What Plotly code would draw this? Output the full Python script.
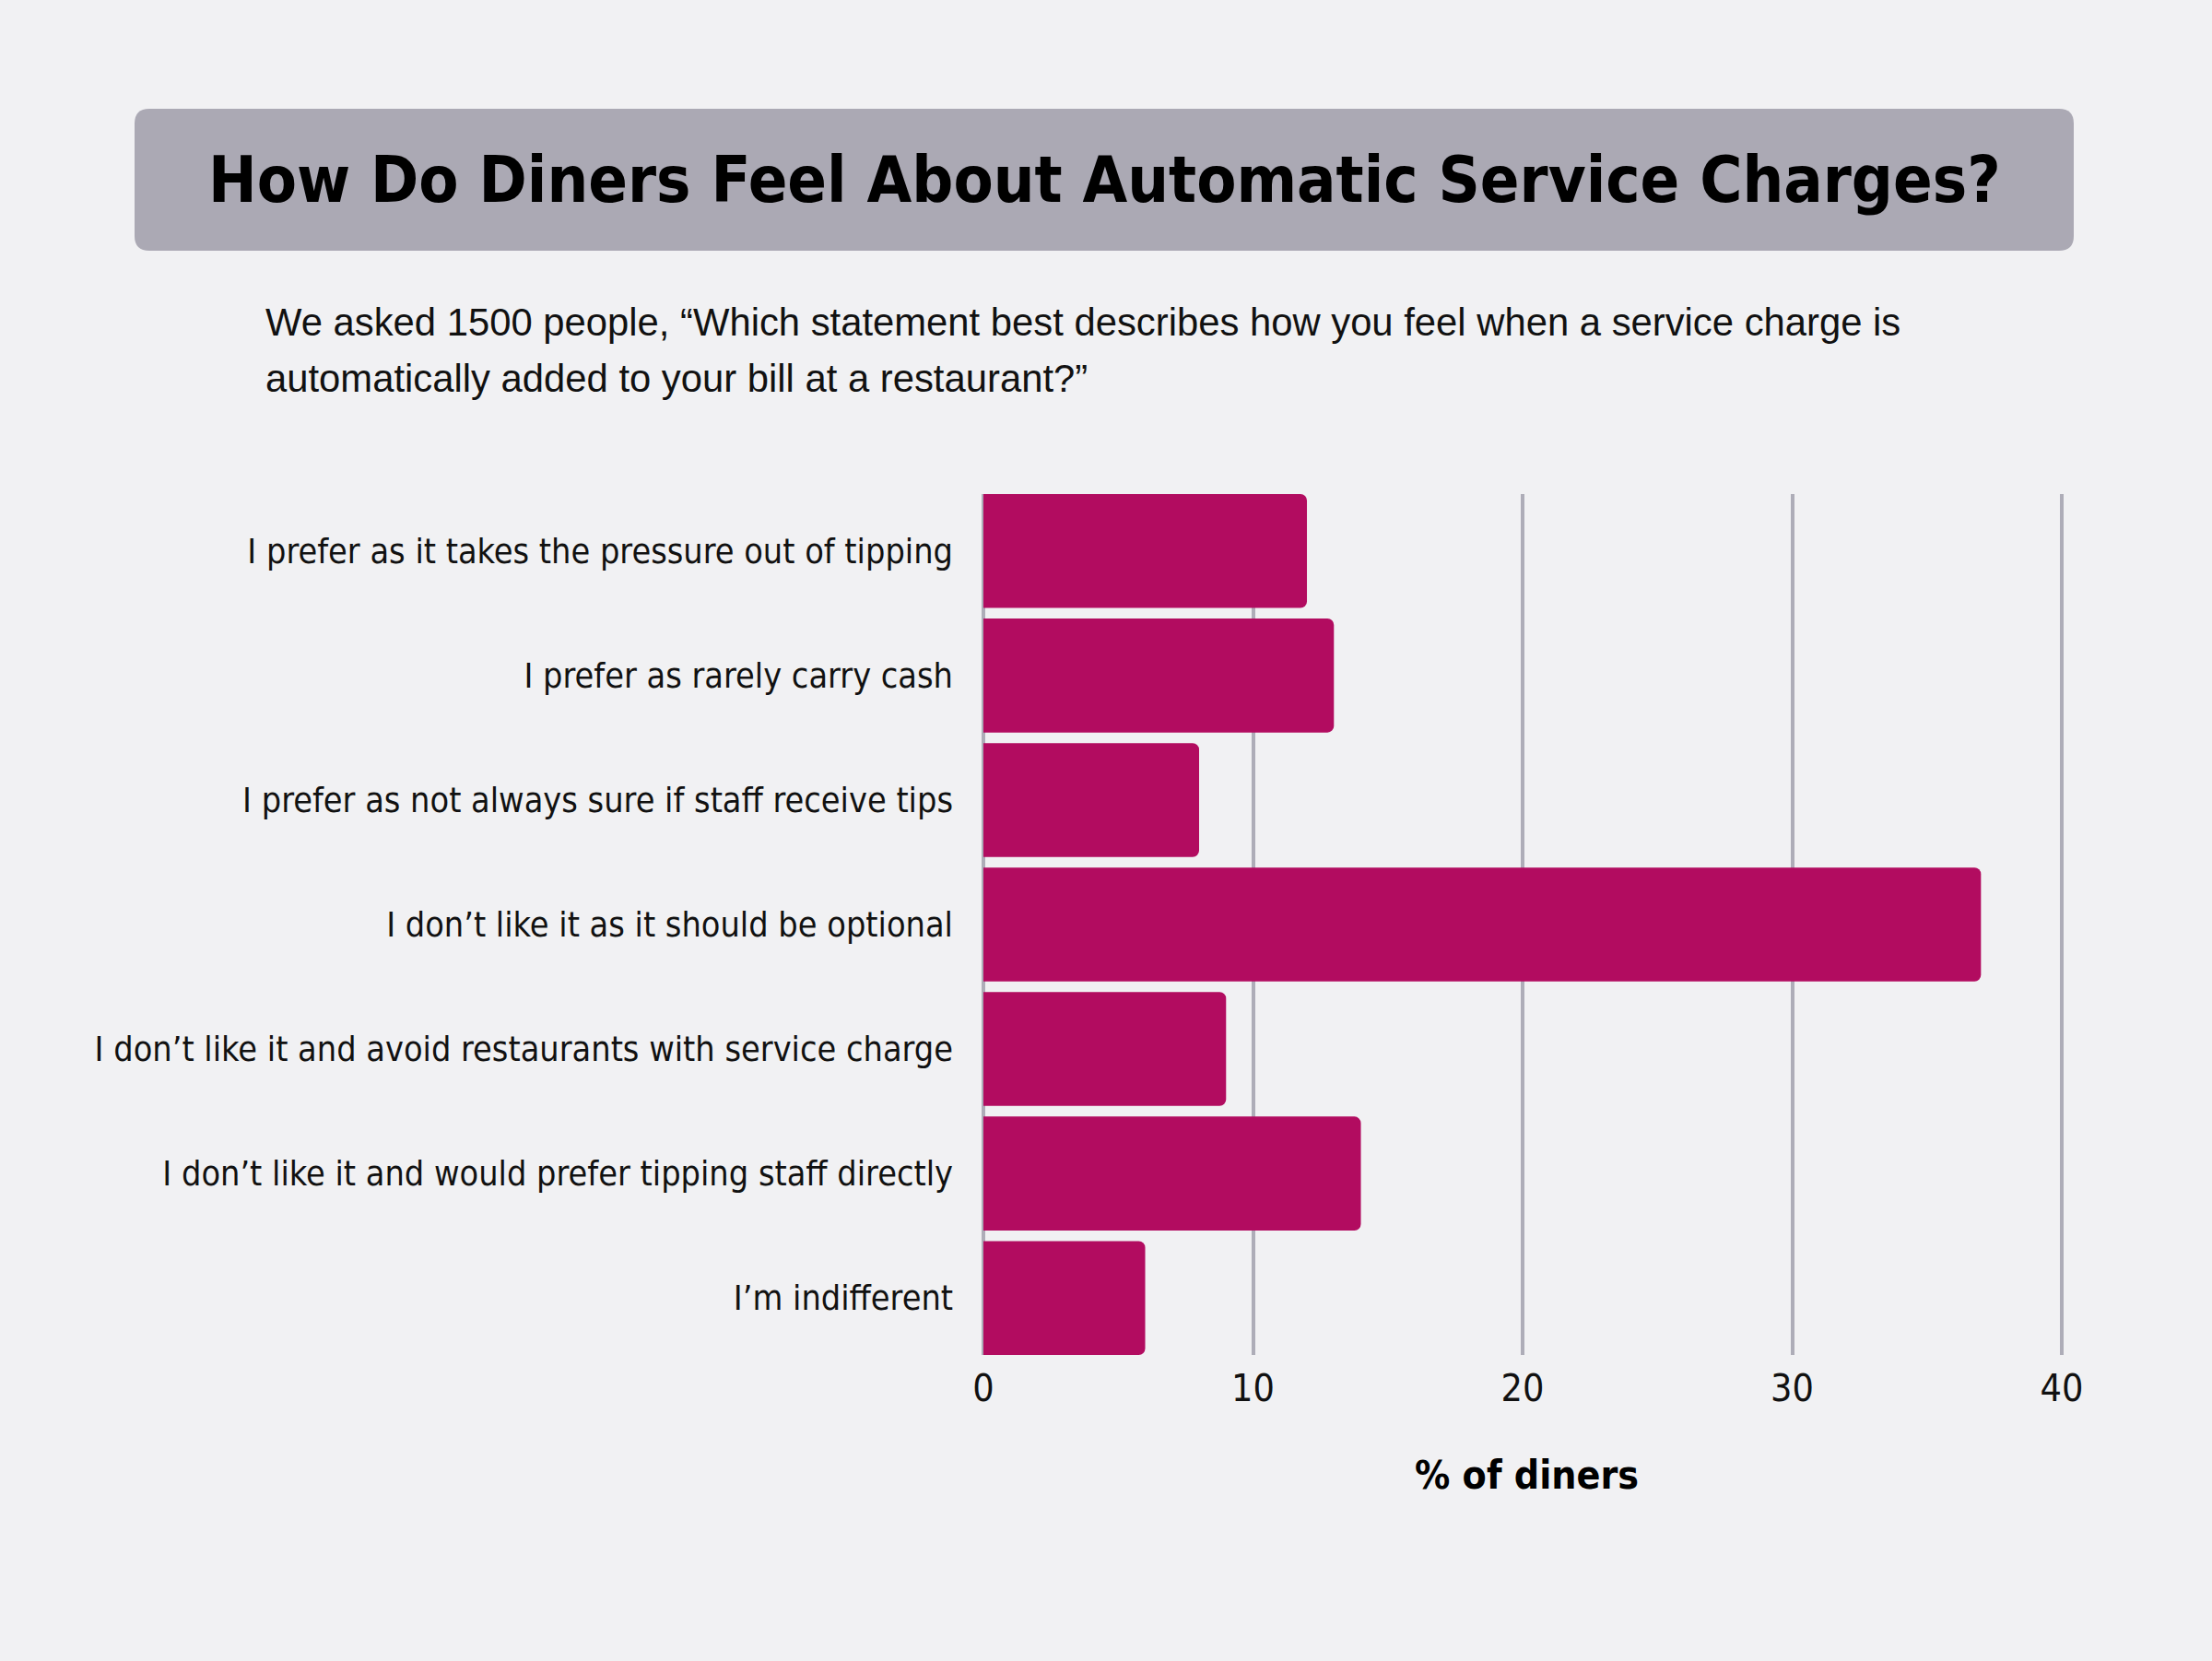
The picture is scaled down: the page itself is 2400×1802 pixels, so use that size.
import plotly.graph_objects as go

categories = [
    "I prefer as it takes the pressure out of tipping",
    "I prefer as rarely carry cash",
    "I prefer as not always sure if staff receive tips",
    "I don’t like it as it should be optional",
    "I don’t like it and avoid restaurants with service charge",
    "I don’t like it and would prefer tipping staff directly",
    "I’m indifferent",
]
values = [12, 13, 8, 37, 9, 14, 6]
x_ticks = [0, 10, 20, 30, 40]

title_text = "How Do Diners Feel About Automatic Service Charges?"
subtitle_lines = [
    "We asked 1500 people, “Which statement best describes how you feel when a service charge is",
    "automatically added to your bill at a restaurant?”",
]
x_title = "% of diners"

W, H = 2400, 1802
L, R, T, B = 1067, 160, 536, 332
BG = "#f1f1f3"
BAR = "#b20c60"
GRID = "#aeadb8"
BOX = "#aba9b4"
NARROW = "Liberation Sans Narrow, DejaVu Sans Condensed, Roboto, sans-serif"
REG = "Liberation Sans, Arial, sans-serif"
GAP = 0.085
X_MAX = 40.1


def px2x(px):
    return (px - L) / (W - L - R)


def py2y(py):
    return (H - B - py) / (H - T - B)


def rounded_rect(x0, y0, x1, y1, r):
    X = px2x
    Y = py2y
    return (
        f"M {X(x0 + r)},{Y(y0)} L {X(x1 - r)},{Y(y0)} Q {X(x1)},{Y(y0)} {X(x1)},{Y(y0 + r)} "
        f"L {X(x1)},{Y(y1 - r)} Q {X(x1)},{Y(y1)} {X(x1 - r)},{Y(y1)} "
        f"L {X(x0 + r)},{Y(y1)} Q {X(x0)},{Y(y1)} {X(x0)},{Y(y1 - r)} "
        f"L {X(x0)},{Y(y0 + r)} Q {X(x0)},{Y(y0)} {X(x0 + r)},{Y(y0)} Z"
    )


fig = go.Figure(
    go.Bar(
        x=values,
        y=categories,
        orientation="h",
        marker=dict(color=BAR, line=dict(width=0)),
        hoverinfo="skip",
    )
)

n = len(categories)
fig.update_layout(
    width=W,
    height=H,
    margin=dict(l=L, r=R, t=T, b=B, pad=0),
    paper_bgcolor=BG,
    plot_bgcolor=BG,
    bargap=GAP,
    barcornerradius=7,
    showlegend=False,
    xaxis=dict(
        range=[0, X_MAX],
        tickvals=x_ticks,
        showgrid=True,
        gridcolor=GRID,
        gridwidth=4,
        zeroline=True,
        zerolinecolor=GRID,
        zerolinewidth=4,
        showline=False,
        ticks="",
        ticklabelstandoff=8,
        tickfont=dict(family=NARROW, size=41, color="#111111"),
        fixedrange=True,
    ),
    yaxis=dict(
        range=[n - 0.5 - GAP / 2, -0.5 + GAP / 2],
        showgrid=False,
        zeroline=False,
        showline=False,
        ticks="",
        ticklabelstandoff=32,
        tickfont=dict(family=NARROW, size=37.5, color="#111111"),
        fixedrange=True,
    ),
    shapes=[
        dict(
            type="path",
            xref="paper",
            yref="paper",
            path=rounded_rect(146, 118, 2250, 272, 16),
            fillcolor=BOX,
            line=dict(width=0),
            layer="below",
        )
    ],
    annotations=[
        dict(
            text=title_text,
            xref="paper",
            yref="paper",
            x=px2x(1198),
            y=py2y(195),
            xanchor="center",
            yanchor="middle",
            showarrow=False,
            font=dict(family=NARROW, size=70, color="#000000", weight=700),
        ),
        dict(
            text=subtitle_lines[0],
            xref="paper",
            yref="paper",
            x=px2x(286),
            y=py2y(349),
            xanchor="left",
            yanchor="middle",
            showarrow=False,
            font=dict(family=REG, size=41.8, color="#111111"),
        ),
        dict(
            text=subtitle_lines[1],
            xref="paper",
            yref="paper",
            x=px2x(286),
            y=py2y(410),
            xanchor="left",
            yanchor="middle",
            showarrow=False,
            font=dict(family=REG, size=41.8, color="#111111"),
        ),
        dict(
            text=x_title,
            xref="paper",
            yref="paper",
            x=px2x(1656),
            y=py2y(1600),
            xanchor="center",
            yanchor="middle",
            showarrow=False,
            font=dict(family=NARROW, size=42.5, color="#000000", weight=700),
        ),
    ],
)

fig.write_html(
    "out.html",
    config={"displayModeBar": False},
    post_script="document.body.style.margin='0';",
)
